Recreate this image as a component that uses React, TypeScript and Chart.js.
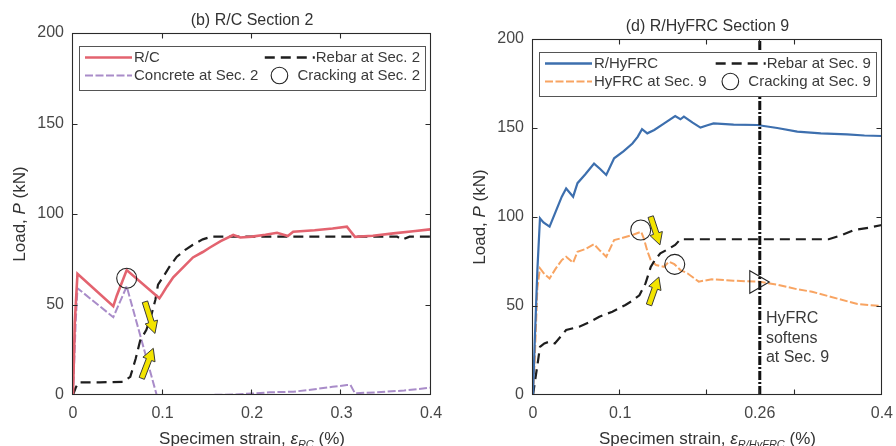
import React, { useEffect, useRef } from "react";
import { Chart, registerables } from "chart.js";

Chart.register(...registerables);

const FONT = "'Liberation Sans', Arial, Helvetica, sans-serif";
const INK = "#333333";
const TICK_INK = "#474747";

// ---------- (b) R/C Section 2 ----------
const rcStrain = [0, 0.002, 0.005, 0.045, 0.049, 0.06, 0.0965, 0.1, 0.105, 0.112, 0.12, 0.134, 0.145, 0.153, 0.165, 0.179, 0.187, 0.2, 0.215, 0.228, 0.24, 0.246, 0.27, 0.29, 0.306, 0.315, 0.335, 0.358, 0.38, 0.399];
const rcLoad = [0, 40, 67, 49, 55, 69, 53.4, 56, 60, 65, 69, 76, 79, 81.5, 85, 88.4, 87, 87.5, 88.5, 89.6, 87.8, 90.2, 91, 92, 93, 87.4, 88, 89.3, 90.5, 91.5];

const rcRebarStrain = [0, 0.003, 0.006, 0.03, 0.056, 0.064, 0.07, 0.075, 0.082, 0.088, 0.092, 0.095, 0.101, 0.108, 0.116, 0.125, 0.134, 0.145, 0.155, 0.2, 0.25, 0.3, 0.35, 0.362, 0.368, 0.376, 0.4];
const rcRebarLoad = [0, 4, 7, 7, 7.3, 10, 20, 30, 36, 45, 52.5, 61, 65.4, 71, 76.4, 80, 83, 86, 87.5, 87.5, 87.5, 87.5, 87.5, 87.5, 85.8, 87.5, 87.5];

const rcConcreteStrain = [0, 0.003, 0.005, 0.045, 0.06, 0.0935, 0.12, 0.15, 0.18, 0.2, 0.22, 0.246, 0.27, 0.29, 0.306, 0.31, 0.315, 0.34, 0.37, 0.399];
const rcConcreteLoad = [0, 40, 59, 43, 60, 0, 0, 0, 0.3, 0.8, 1.5, 1.8, 3.2, 4.5, 5.5, 5.5, 1, 1.5, 2.5, 4];

const rcCrackStrain = [0.06];
const rcCrackLoad = [64.5];

const rcXTicks = [0, 0.1, 0.2, 0.3, 0.4];
const rcXTickLabels = ["0", "0.1", "0.2", "0.3", "0.4"];

// yellow arrows as [strainFrom, loadFrom, strainTo, loadTo]
const rcArrows = [
  [0.0804, 51.5, 0.0916, 34],
  [0.0768, 9.2, 0.0897, 25.8],
];

// ---------- (d) R/HyFRC Section 9 ----------
const hyStrain = [0, 0.002, 0.005, 0.008, 0.012, 0.019, 0.026, 0.033, 0.038, 0.046, 0.051, 0.06, 0.07, 0.077, 0.084, 0.093, 0.104, 0.114, 0.12, 0.125, 0.131, 0.139, 0.15, 0.163, 0.169, 0.173, 0.183, 0.192, 0.2, 0.207, 0.23, 0.257, 0.28, 0.303, 0.33, 0.36, 0.38, 0.4];
const hyLoad = [0, 30, 70, 99.3, 97, 94.6, 103, 111.4, 116, 111.4, 119, 124, 130, 127, 123.6, 133, 137, 141.3, 145, 149.3, 147, 148.9, 152.5, 156.7, 154.9, 156.4, 153, 150.2, 151.5, 152.6, 151.9, 151.7, 150, 148, 147, 146.4, 145.8, 145.5];

const hyFrcStrain = [0, 0.002, 0.005, 0.008, 0.013, 0.019, 0.026, 0.033, 0.038, 0.046, 0.051, 0.06, 0.07, 0.077, 0.084, 0.093, 0.104, 0.114, 0.124, 0.127, 0.131, 0.135, 0.141, 0.15, 0.156, 0.162, 0.169, 0.177, 0.19, 0.205, 0.23, 0.258, 0.28, 0.303, 0.32, 0.341, 0.372, 0.385, 0.4];
const hyFrcLoad = [0, 20, 60, 71.2, 68, 65.5, 71, 75.8, 77.7, 74.3, 80.5, 82, 84.7, 81, 77.7, 87, 88.5, 89.9, 91.7, 88, 81, 75.8, 73, 72, 74.9, 73.5, 70.2, 68.4, 63.7, 65, 64.2, 63.7, 62, 59.4, 58, 55.2, 51.1, 50.5, 50];

const hyRebarStrain = [0, 0.003, 0.006, 0.008, 0.013, 0.019, 0.025, 0.032, 0.038, 0.053, 0.065, 0.076, 0.091, 0.106, 0.114, 0.122, 0.129, 0.135, 0.14, 0.146, 0.155, 0.163, 0.169, 0.2, 0.25, 0.3, 0.339, 0.355, 0.368, 0.385, 0.4];
const hyRebarLoad = [0, 10, 20, 27, 29, 30, 29, 33, 36.5, 38.4, 41, 44, 46.8, 50.6, 53, 56, 62.7, 72, 76, 79.6, 82, 84.3, 87.5, 87.5, 87.5, 87.5, 87.5, 90, 92.7, 94, 95.5];

const hyCrackStrain = [0.1235, 0.1625];
const hyCrackLoad = [92.7, 73.4];

const softenStrain = [0.26, 0.26];
const softenLoad = [0, 200];
const softenMarkStrain = [0.256];
const softenMarkLoad = [63.5];
const softenNote = ["HyFRC", "softens", "at Sec. 9"];
const softenNoteAt = [0.267, 42.7];

const hyXTicks = [0, 0.1, 0.2, 0.26, 0.3, 0.4];
const hyXTickLabels = ["0", "0.1", "", "0.26", "", "0.4"];

const hyArrows = [
  [0.1349, 100.2, 0.1455, 84.3],
  [0.133, 50.6, 0.1443, 66.3],
];

// ---------- shared ----------
const loadTicks = [0, 50, 100, 150, 200];
const loadTickLabels = ["0", "50", "100", "150", "200"];

const RED = "#e3636f";
const PURPLE = "#a98cc9";
const BLUE = "#3d6fae";
const ORANGE = "#f8a462";
const BLACK = "#1e1e1e";
const YELLOW = "#f3e400";

const DASH_BLACK = [10, 6];
const DASH_LIGHT = [8, 2.5];
const DASH_DOT = [9, 2, 2, 2];

type Pt = { x: number; y: number };
const pts = (xs: number[], ys: number[]): Pt[] => xs.map((x, i) => ({ x, y: ys[i] }));

type LegendItem = { label: string; kind: "line" | "circle"; color: string; width?: number; dash?: number[] };
type Part = { text: string; italic?: boolean; sub?: boolean };

type Panel = {
  title: string;
  xTitle: Part[];
  xTicks: number[];
  xTickLabels: string[];
  padTop: number;
  padRight: number;
  yAxisWidth: number;
  datasets: any[];
  legend: [LegendItem, LegendItem][];
  arrows: number[][];
  note?: { lines: string[]; at: number[] };
};

const lineSet = (data: Pt[], color: string, width: number, dash: number[] = []) => ({
  data,
  showLine: true,
  pointRadius: 0,
  borderColor: color,
  backgroundColor: color,
  borderWidth: width,
  borderDash: dash,
  fill: false,
  tension: 0,
});

const markerSet = (data: Pt[], style: string, radius: number, rotation = 0) => ({
  data,
  showLine: false,
  pointStyle: style,
  pointRadius: radius,
  pointRotation: rotation,
  borderColor: "#222",
  pointBorderColor: "#222",
  backgroundColor: "rgba(0,0,0,0)",
  pointBackgroundColor: "rgba(0,0,0,0)",
  borderWidth: 1.1,
  pointBorderWidth: 1.1,
});

const rcPanel: Panel = {
  title: "(b) R/C Section 2",
  xTitle: [{ text: "Specimen strain, " }, { text: "ε", italic: true }, { text: "RC", italic: true, sub: true }, { text: " (%)" }],
  xTicks: rcXTicks,
  xTickLabels: rcXTickLabels,
  padTop: 33,
  padRight: 17,
  yAxisWidth: 73,
  // listed from front to back
  datasets: [
    markerSet(pts(rcCrackStrain, rcCrackLoad), "circle", 10),
    lineSet(pts(rcStrain, rcLoad), RED, 2.6),
    lineSet(pts(rcRebarStrain, rcRebarLoad), BLACK, 2.2, DASH_BLACK),
    lineSet(pts(rcConcreteStrain, rcConcreteLoad), PURPLE, 2, DASH_LIGHT),
  ],
  legend: [
    [
      { label: "R/C", kind: "line", color: RED, width: 2.6 },
      { label: "Rebar at Sec. 2", kind: "line", color: BLACK, width: 2.4, dash: DASH_BLACK },
    ],
    [
      { label: "Concrete at Sec. 2", kind: "line", color: PURPLE, width: 2.2, dash: DASH_LIGHT },
      { label: "Cracking at Sec. 2", kind: "circle", color: "#222" },
    ],
  ],
  arrows: rcArrows,
};

const hyPanel: Panel = {
  title: "(d) R/HyFRC Section 9",
  xTitle: [{ text: "Specimen strain, " }, { text: "ε", italic: true }, { text: "R/HyFRC", italic: true, sub: true }, { text: " (%)" }],
  xTicks: hyXTicks,
  xTickLabels: hyXTickLabels,
  padTop: 39,
  padRight: 11,
  yAxisWidth: 85,
  datasets: [
    markerSet(pts(hyCrackStrain, hyCrackLoad), "circle", 10),
    markerSet(pts(softenMarkStrain, softenMarkLoad), "triangle", 13, 90),
    lineSet(pts(softenStrain, softenLoad), "#111", 3, DASH_DOT),
    lineSet(pts(hyStrain, hyLoad), BLUE, 2.2),
    lineSet(pts(hyRebarStrain, hyRebarLoad), BLACK, 2.2, DASH_BLACK),
    lineSet(pts(hyFrcStrain, hyFrcLoad), ORANGE, 2, DASH_LIGHT),
  ],
  legend: [
    [
      { label: "R/HyFRC", kind: "line", color: BLUE, width: 2.4 },
      { label: "Rebar at Sec. 9", kind: "line", color: BLACK, width: 2.4, dash: DASH_BLACK },
    ],
    [
      { label: "HyFRC at Sec. 9", kind: "line", color: ORANGE, width: 2.2, dash: DASH_LIGHT },
      { label: "Cracking at Sec. 9", kind: "circle", color: "#222" },
    ],
  ],
  arrows: hyArrows,
  note: { lines: softenNote, at: softenNoteAt },
};

function drawParts(ctx: CanvasRenderingContext2D, parts: Part[], cx: number, cy: number, angle: number, size: number) {
  ctx.save();
  ctx.translate(cx, cy);
  ctx.rotate(angle);
  const fontOf = (p: Part) => `${p.italic ? "italic " : ""}${p.sub ? Math.round(size * 0.62) : size}px ${FONT}`;
  let total = 0;
  const widths = parts.map((p) => {
    ctx.font = fontOf(p);
    const w = ctx.measureText(p.text).width;
    total += w;
    return w;
  });
  let x = -total / 2;
  ctx.textBaseline = "middle";
  ctx.textAlign = "left";
  ctx.fillStyle = INK;
  parts.forEach((p, i) => {
    ctx.font = fontOf(p);
    ctx.fillText(p.text, x, p.sub ? size * 0.32 : 0);
    x += widths[i];
  });
  ctx.restore();
}

function drawArrow(ctx: CanvasRenderingContext2D, x0: number, y0: number, x1: number, y1: number) {
  const dx = x1 - x0;
  const dy = y1 - y0;
  const len = Math.hypot(dx, dy);
  const ux = dx / len;
  const uy = dy / len;
  const nx = -uy;
  const ny = ux;
  const sw = 2.8;
  const hw = 6.5;
  const hl = 12;
  const bx = x1 - ux * hl;
  const by = y1 - uy * hl;
  ctx.beginPath();
  ctx.moveTo(x0 + nx * sw, y0 + ny * sw);
  ctx.lineTo(bx + nx * sw, by + ny * sw);
  ctx.lineTo(bx + nx * hw, by + ny * hw);
  ctx.lineTo(x1, y1);
  ctx.lineTo(bx - nx * hw, by - ny * hw);
  ctx.lineTo(bx - nx * sw, by - ny * sw);
  ctx.lineTo(x0 - nx * sw, y0 - ny * sw);
  ctx.closePath();
  ctx.fillStyle = YELLOW;
  ctx.fill();
  ctx.lineWidth = 1;
  ctx.strokeStyle = "#3a3a3a";
  ctx.setLineDash([]);
  ctx.stroke();
}

function legendSample(ctx: CanvasRenderingContext2D, item: LegendItem, x0: number, x1: number, y: number) {
  if (item.kind === "circle") {
    ctx.beginPath();
    ctx.setLineDash([]);
    ctx.lineWidth = 1.1;
    ctx.strokeStyle = item.color;
    ctx.arc(x1 - 17, y, 8.3, 0, Math.PI * 2);
    ctx.stroke();
    return;
  }
  ctx.beginPath();
  ctx.setLineDash(item.dash || []);
  ctx.lineWidth = item.width || 2;
  ctx.strokeStyle = item.color;
  ctx.moveTo(x0, y);
  ctx.lineTo(x1, y);
  ctx.stroke();
  ctx.setLineDash([]);
}

const decorations = (p: Panel) => ({
  id: "decorations",
  afterDraw(chart: any) {
    const { ctx, chartArea: a, scales } = chart;
    const xs = scales.x;
    const ys = scales.y;
    ctx.save();

    // annotation arrows
    p.arrows.forEach(([sx0, sy0, sx1, sy1]) => {
      drawArrow(ctx, xs.getPixelForValue(sx0), ys.getPixelForValue(sy0), xs.getPixelForValue(sx1), ys.getPixelForValue(sy1));
    });

    // note text
    if (p.note) {
      const nx = xs.getPixelForValue(p.note.at[0]);
      const ny = ys.getPixelForValue(p.note.at[1]);
      ctx.font = `16px ${FONT}`;
      ctx.fillStyle = "#3a3a3a";
      ctx.textAlign = "left";
      ctx.textBaseline = "middle";
      p.note.lines.forEach((t, i) => ctx.fillText(t, nx, ny + i * 19.5));
    }

    // axes box with inward ticks
    ctx.setLineDash([]);
    ctx.strokeStyle = "#2a2a2a";
    ctx.lineWidth = 1.1;
    const L = Math.round(a.left) - 0.5;
    const R = Math.round(a.right) - 0.5;
    const T = Math.round(a.top) + 0.5;
    const B = Math.round(a.bottom) - 0.5;
    ctx.strokeRect(L, T, R - L, B - T);
    ctx.beginPath();
    p.xTicks.forEach((v) => {
      if (v <= xs.min || v >= xs.max) return;
      const px = Math.round(xs.getPixelForValue(v)) - 0.5;
      ctx.moveTo(px, B);
      ctx.lineTo(px, B - 5);
      ctx.moveTo(px, T);
      ctx.lineTo(px, T + 5);
    });
    loadTicks.forEach((v) => {
      if (v <= ys.min || v >= ys.max) return;
      const py = Math.round(ys.getPixelForValue(v)) + 0.5;
      ctx.moveTo(L, py);
      ctx.lineTo(L + 5, py);
      ctx.moveTo(R, py);
      ctx.lineTo(R - 5, py);
    });
    ctx.stroke();

    // legend
    const boxL = a.left + 6;
    const boxR = a.right - 6;
    const boxT = a.top + 12.5;
    const boxH = 44;
    ctx.fillStyle = "#ffffff";
    ctx.fillRect(boxL, boxT, boxR - boxL, boxH);
    ctx.strokeStyle = "#555";
    ctx.lineWidth = 1;
    ctx.strokeRect(Math.round(boxL) + 0.5, Math.round(boxT) + 0.5, Math.round(boxR - boxL), Math.round(boxH));
    ctx.textBaseline = "middle";
    p.legend.forEach(([c1, c2], r) => {
      const y = boxT + 12 + r * 18;
      legendSample(ctx, c1, boxL + 6, boxL + 53, y);
      ctx.font = `15px ${FONT}`;
      ctx.fillStyle = "#3a3a3a";
      ctx.textAlign = "left";
      ctx.fillText(c1.label, boxL + 55, y);
      const w = ctx.measureText(c2.label).width;
      const tx = boxR - 5 - w;
      legendSample(ctx, c2, tx - 51, tx - 1, y);
      ctx.font = `15px ${FONT}`;
      ctx.fillStyle = "#3a3a3a";
      ctx.fillText(c2.label, tx, y);
    });

    // title and axis titles
    const cx = (a.left + a.right) / 2;
    ctx.font = `16px ${FONT}`;
    ctx.fillStyle = INK;
    ctx.textAlign = "center";
    ctx.textBaseline = "middle";
    ctx.fillText(p.title, cx, a.top - 12);
    drawParts(ctx, p.xTitle, cx, a.bottom + 44, 0, 17);
    drawParts(ctx, [{ text: "Load, " }, { text: "P", italic: true }, { text: " (kN)" }], a.left - 53, (a.top + a.bottom) / 2, -Math.PI / 2, 17);

    ctx.restore();
  },
});

function buildConfig(p: Panel): any {
  const tickFont = { family: FONT, size: 16 };
  return {
    type: "scatter",
    data: { datasets: p.datasets },
    options: {
      animation: false,
      responsive: false,
      maintainAspectRatio: false,
      events: [],
      layout: { padding: { top: p.padTop, right: p.padRight, left: 0, bottom: 0 } },
      plugins: { legend: { display: false }, title: { display: false }, tooltip: { enabled: false } },
      scales: {
        x: {
          type: "linear",
          min: 0,
          max: 0.4,
          grid: { display: false, drawTicks: false },
          border: { display: false },
          afterBuildTicks: (s: any) => {
            s.ticks = p.xTicks.map((v) => ({ value: v }));
          },
          afterFit: (s: any) => {
            s.height = 51;
            s.paddingLeft = 0;
            s.paddingRight = 0;
          },
          ticks: {
            autoSkip: false,
            maxRotation: 0,
            padding: 9,
            color: TICK_INK,
            font: tickFont,
            callback: (_v: any, i: number) => p.xTickLabels[i],
          },
        },
        y: {
          type: "linear",
          min: 0,
          max: 200,
          grid: { display: false, drawTicks: false },
          border: { display: false },
          afterBuildTicks: (s: any) => {
            s.ticks = loadTicks.map((v) => ({ value: v }));
          },
          afterFit: (s: any) => {
            s.width = p.yAxisWidth;
            s.paddingTop = 0;
            s.paddingBottom = 0;
          },
          ticks: {
            autoSkip: false,
            padding: 9,
            color: TICK_INK,
            font: tickFont,
            callback: (_v: any, i: number) => loadTickLabels[i],
          },
        },
      },
    },
    plugins: [decorations(p)],
  };
}

function PanelChart({ panel, left }: { panel: Panel; left: number }) {
  const ref = useRef<HTMLCanvasElement>(null);
  useEffect(() => {
    const chart = new Chart(ref.current as HTMLCanvasElement, buildConfig(panel));
    return () => chart.destroy();
  }, [panel]);
  return (
    <canvas
      ref={ref}
      width={448}
      height={446}
      style={{ position: "absolute", left, top: 0, width: 448, height: 446 }}
    />
  );
}

export default function App() {
  return (
    <div style={{ position: "absolute", left: 0, top: 0, width: 896, height: 446, background: "#ffffff", overflow: "hidden" }}>
      <PanelChart panel={rcPanel} left={0} />
      <PanelChart panel={hyPanel} left={448} />
    </div>
  );
}
